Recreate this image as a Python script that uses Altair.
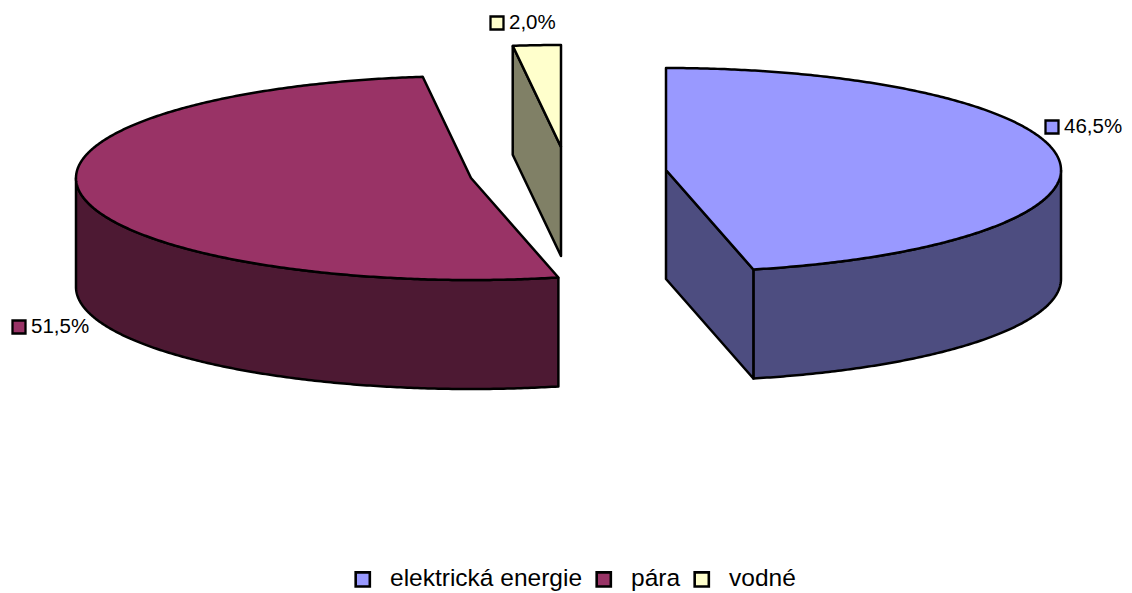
import math
import altair as alt
import pandas as pd

categories = ["elektrická energie", "pára", "vodné"]
shares = [46.45, 51.6, 1.95]
share_labels = ["46,5%", "51,5%", "2,0%"]
top_colors = ["#9999FF", "#993366", "#FFFFCC"]
side_colors = ["#4D4D80", "#4D1933", "#808066"]
centers = [(666, 170), (471, 178), (561, 147)]
marker_x = [1052, 19, 497]
marker_y = [127, 327, 23]
RX, RY, DEPTH = 395, 102, 109

starts = [0.0, shares[0] * 3.6, (shares[0] + shares[1]) * 3.6]
ends = [shares[0] * 3.6, (shares[0] + shares[1]) * 3.6, 360.0]


def rim(cx, cy, a0, a1, drop=0):
    n = max(2, int(abs(a1 - a0) * 2))
    return [(cx + RX * math.sin(math.radians(a0 + (a1 - a0) * k / n)),
             cy - RY * math.cos(math.radians(a0 + (a1 - a0) * k / n)) + drop)
            for k in range(n + 1)]


def poly(points, color, width=2.5):
    closed = points + [points[0]]
    df = pd.DataFrame({"x": [p[0] for p in closed], "y": [p[1] for p in closed],
                       "i": list(range(len(closed)))})
    return alt.Chart(df).mark_line(fill=color, stroke="black", strokeWidth=width,
                                   strokeJoin="round").encode(
        x=alt.X("x:Q", scale=xs, axis=None),
        y=alt.Y("y:Q", scale=ys, axis=None),
        order="i:Q")


xs = alt.Scale(domain=[8, 1124], nice=False, zero=False)
ys = alt.Scale(domain=[593, 8], nice=False, zero=False)

layers = []
# blue slice: outer wall and cut face
c = centers[0]
layers.append(poly(rim(*c, 90, ends[0]) + rim(*c, ends[0], 90, DEPTH), side_colors[0]))
end = rim(*c, ends[0], ends[0] + 1)[0]
layers.append(poly([c, end, (end[0], end[1] + DEPTH), (c[0], c[1] + DEPTH)], side_colors[0]))
layers.append(poly([c] + rim(*c, starts[0], ends[0]), top_colors[0]))
# red slice: outer wall
c = centers[1]
layers.append(poly(rim(*c, starts[1], 270) + rim(*c, 270, starts[1], DEPTH), side_colors[1]))
layers.append(poly([c] + rim(*c, starts[1], ends[1]), top_colors[1]))
# yellow slice: cut face
c = centers[2]
p = rim(*c, starts[2], starts[2] + 1)[0]
layers.append(poly([p, c, (c[0], c[1] + DEPTH), (p[0], p[1] + DEPTH)], side_colors[2]))
layers.append(poly([c] + rim(*c, starts[2], ends[2]), top_colors[2]))

labels = pd.DataFrame({"cat": categories, "label": share_labels,
                       "x": marker_x, "y": marker_y})
squares = alt.Chart(labels).mark_square(size=169, filled=True, stroke="black",
                                        strokeWidth=2.3, opacity=1).encode(
    x=alt.X("x:Q", scale=xs, axis=None),
    y=alt.Y("y:Q", scale=ys, axis=None),
    fill=alt.Fill("cat:N", scale=alt.Scale(domain=categories, range=top_colors),
                  legend=alt.Legend(orient="none", legendX=342.5, legendY=559, title=None,
                                    direction="horizontal", columns=3, symbolType="square",
                                    symbolSize=200, symbolStrokeColor="black",
                                    symbolStrokeWidth=2.6, symbolOpacity=1,
                                    labelFont="Liberation Sans", labelFontSize=24.5,
                                    labelColor="black", labelOffset=15,
                                    columnPadding=8, labelLimit=300)))
texts = alt.Chart(labels).mark_text(align="left", baseline="middle", dx=12,
                                    font="Liberation Sans", fontSize=20.5,
                                    color="black").encode(
    x=alt.X("x:Q", scale=xs, axis=None),
    y=alt.Y("y:Q", scale=ys, axis=None),
    text="label:N")

chart = alt.layer(*layers, squares, texts).properties(
    width=1116, height=585, padding=0, background="white",
    autosize=alt.AutoSizeParams(type="none")
).configure_view(stroke=None)

chart.save("out.html", embed_options={"renderer": "svg", "actions": False})
